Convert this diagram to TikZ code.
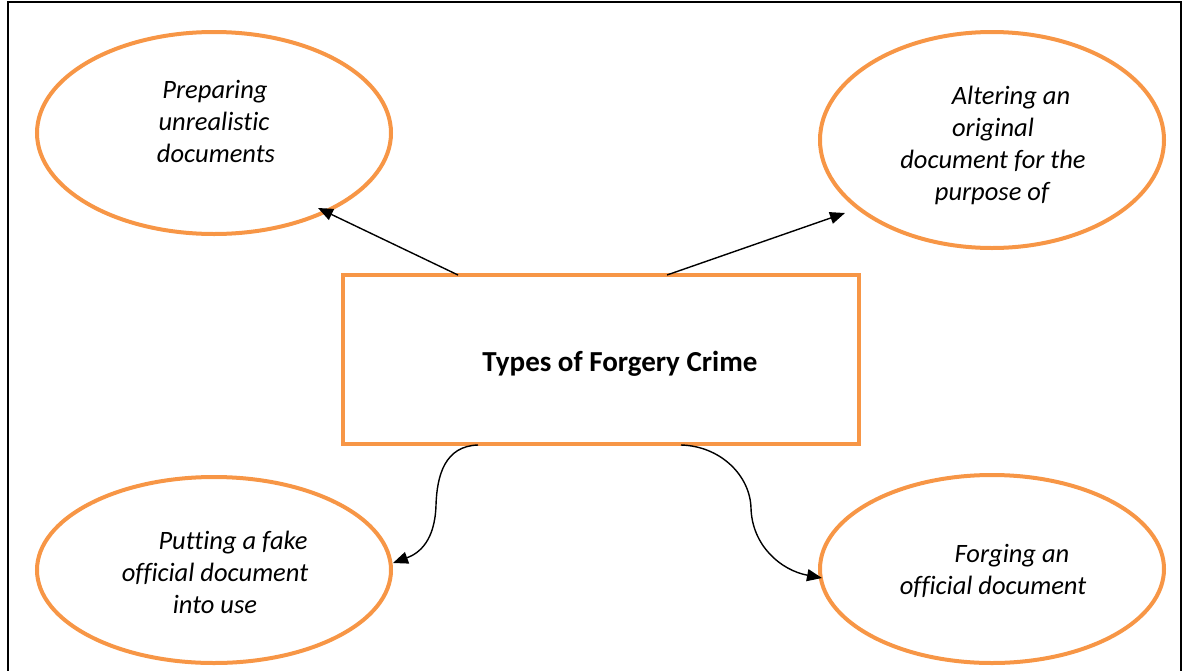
\documentclass[tikz,border=0pt]{standalone}
\usepackage{fontspec}
\setmainfont[Ligatures=NoCommon]{Carlito}
\usetikzlibrary{arrows.meta,shapes.geometric}
\definecolor{orng}{HTML}{F79646}
\begin{document}
\begin{tikzpicture}[x=1pt,y=-1pt,
  oval/.style={draw=orng,line width=4pt,ellipse,inner sep=0pt},
  txt/.style={font=\fontsize{26.5}{32}\selectfont\itshape,inner sep=0pt,anchor=base},
  conn/.style={line width=1.4pt,-{Triangle[length=15pt,width=12pt]}}]
\useasboundingbox (0,0) rectangle (1184,670);
\draw[line width=2.5pt] (8,672) -- (8,2) -- (1181,2) -- (1181,672);
\node[oval,minimum width=354pt,minimum height=202pt] (e1) at (214,133) {};
\node[oval,minimum width=344pt,minimum height=216pt] (e2) at (992,140) {};
\node[oval,minimum width=354pt,minimum height=186pt] (e3) at (214,570) {};
\node[oval,minimum width=344pt,minimum height=188pt] (e4) at (992,569) {};
\node[draw=orng,line width=4pt,minimum width=516pt,minimum height=169pt,inner sep=0pt] (box) at (601,359.5) {};
\node[font=\fontsize{29}{32}\selectfont\bfseries,inner sep=0pt,anchor=base] (title) at (620,371) {Types of Forgery Crime};
% top left
\node[txt] (t1a) at (215,98) {Preparing};
\node[txt] (t1b) at (214,130) {unrealistic};
\node[txt] (t1c) at (216,162) {documents};
% top right
\node[txt] (t2a) at (1011,104) {Altering an};
\node[txt] (t2b) at (993,136) {original};
\node[txt] (t2c) at (993,168) {document for the};
\node[txt] (t2d) at (992,200) {purpose of};
% bottom left
\node[txt] (t3a) at (233,549) {Putting a fake};
\node[txt] (t3b) at (215,581) {official document};
\node[txt] (t3c) at (215,613) {into use};
% bottom right
\node[txt] (t4a) at (1012,562) {Forging an};
\node[txt] (t4b) at (993,594) {official document};
\coordinate (s1) at (458,275);
\coordinate (s2) at (667,275);
\coordinate (s3) at (478,445);
\coordinate (s4) at (681,445);
\coordinate (p1) at (318,208);
\coordinate (p2) at (845,213);
\coordinate (p3) at (393,563);
\coordinate (p4) at (822,578);
\draw[conn] (s1) -- (p1);
\draw[conn] (s2) -- (p2);
\draw[conn] (s3) .. controls (445,446) and (437,475) .. (436,505)
  .. controls (435,540) and (420,553) .. (p3);
\draw[conn] (s4) .. controls (720,446) and (750,475) .. (751,508)
  .. controls (752,545) and (780,570) .. (p4);
\end{tikzpicture}
\end{document}
